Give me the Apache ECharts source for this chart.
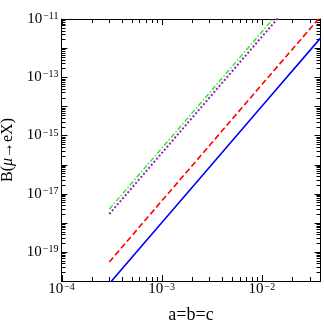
<!DOCTYPE html>
<html>
<head>
<meta charset="utf-8">
<script src="https://cdn.jsdelivr.net/npm/echarts@6/dist/echarts.min.js"></script>
<style>
  html, body { margin: 0; padding: 0; background: #fff; }
  #chart { width: 324px; height: 325px; }
</style>
</head>
<body>
<div id="chart"></div>
<script>
// a = b = c on x, B(mu -> eX) on y (both log)
var aValues = [3e-4, 1e-3, 3e-3, 1e-2, 3.85e-2];
var blueLine = [8.1e-21, 1.0e-18, 8.1e-17, 1.0e-14, 2.2e-12];
var redLine = [4.5e-20, 5.6e-18, 4.5e-16, 5.6e-14, 1.2e-11];
var purpleLine = [2.0e-18, 2.45e-16, 2.0e-14, 2.45e-12, 5.4e-10];
var greenLine = [2.95e-18, 3.6e-16, 2.9e-14, 3.6e-12, 8.0e-10];

var xMin = 1e-4, xMax = 3.85e-2;
var yMin = 1e-20, yMax = 1e-11;
var xLabelExps = [-4, -3, -2];
var yLabelExps = [-19, -17, -15, -13, -11];

var lg = Math.log10;
var font = "Liberation Serif";

var xLo = lg(xMin), xHi = lg(xMax), yLo = lg(yMin), yHi = lg(yMax);

// decade ticks and 2..9 minor ticks, in log space
function decadeTicks(lo, hi) {
  var out = [];
  for (var n = Math.ceil(lo - 1e-9); n <= hi + 1e-9; n++) out.push(n);
  return out;
}
function minorTicks(lo, hi) {
  var out = [];
  for (var n = Math.floor(lo); n < hi; n++) {
    for (var k = 2; k <= 9; k++) {
      var v = n + lg(k);
      if (v > lo && v < hi) out.push(v);
    }
  }
  return out;
}

function supLabel(v) {
  return "{b|10}{s|\u2212" + Math.abs(Math.round(v)) + "}";
}

function axisCfg(pos, lo, hi, labels, rich, margin) {
  return {
    type: "value",
    position: pos,
    min: lo,
    max: hi,
    splitLine: { show: false },
    axisLine: { show: true, lineStyle: { color: "#000", width: 1 } },
    axisTick: { show: false },
    axisLabel: labels ? {
      show: true, customValues: labels, margin: margin,
      formatter: supLabel, color: "#000", fontFamily: font, rich: rich
    } : { show: false }
  };
}

var xRich = {
  b: { fontSize: 15, lineHeight: 15, fontFamily: font, color: "#000", verticalAlign: "bottom" },
  s: { fontSize: 10, lineHeight: 10, fontFamily: font, color: "#000", verticalAlign: "top", padding: [0, 0, 8, 1] }
};
var yRich = {
  b: { fontSize: 15, lineHeight: 15, fontFamily: font, color: "#000", verticalAlign: "middle" },
  s: { fontSize: 10, lineHeight: 10, fontFamily: font, color: "#000", verticalAlign: "top", padding: [0, 0, 15, 1] }
};

var xBottom = axisCfg("bottom", xLo, xHi, xLabelExps, xRich, 1);
xBottom.name = "a=b=c";
xBottom.nameLocation = "middle";
xBottom.nameGap = 25;
xBottom.nameTextStyle = { fontSize: 18, fontFamily: font, color: "#000" };

var yLeft = axisCfg("left", yLo, yHi, yLabelExps, yRich, 3);
yLeft.name = "{n|B(}{i|\u03bc}{n|\u2192eX)}";
yLeft.nameLocation = "middle";
yLeft.nameGap = 39;
yLeft.nameRotate = 90;
yLeft.nameTextStyle = {
  rich: {
    n: { fontSize: 16, fontFamily: font, color: "#000" },
    i: { fontSize: 16, fontFamily: font, color: "#000", fontStyle: "italic" }
  }
};

// tick marks: [position in log space, side (0 bottom, 1 top, 2 left, 3 right), length]
var tickData = [];
decadeTicks(xLo, xHi).forEach(function (v) { tickData.push([v, 0, 6], [v, 1, 6]); });
minorTicks(xLo, xHi).forEach(function (v) { tickData.push([v, 0, 4], [v, 1, 4]); });
decadeTicks(yLo, yHi).forEach(function (v) { tickData.push([v, 2, 6], [v, 3, 6]); });
minorTicks(yLo, yHi).forEach(function (v) { tickData.push([v, 2, 4], [v, 3, 4]); });

function renderTick(params, api) {
  var v = api.value(0), side = api.value(1), len = api.value(2);
  var p, x1, y1, x2, y2;
  if (side < 2) {
    p = api.coord([v, side === 0 ? yLo : yHi]);
    x1 = x2 = Math.round(p[0]) + 0.5;
    y1 = p[1];
    y2 = side === 0 ? p[1] - len : p[1] + len;
  } else {
    p = api.coord([side === 2 ? xLo : xHi, v]);
    y1 = y2 = Math.round(p[1]) + 0.5;
    x1 = p[0];
    x2 = side === 2 ? p[0] + len : p[0] - len;
  }
  return {
    type: "line",
    shape: { x1: x1, y1: y1, x2: x2, y2: y2 },
    style: { stroke: "#000", lineWidth: 1 }
  };
}

function makeSeries(vals, color, type, width) {
  return {
    type: "line",
    symbol: "none",
    clip: true,
    data: aValues.map(function (a, i) { return [lg(a), lg(vals[i])]; }),
    lineStyle: { color: color, width: width, type: type }
  };
}

var chart = echarts.init(document.getElementById("chart"));
chart.setOption({
  animation: false,
  backgroundColor: "#fff",
  grid: { left: 61.5, right: 3.5, top: 19, bottom: 44, containLabel: false, outerBoundsMode: "none" },
  xAxis: [xBottom, axisCfg("top", xLo, xHi, null)],
  yAxis: [yLeft, axisCfg("right", yLo, yHi, null)],
  series: [
    makeSeries(blueLine, "#0000ff", "solid", 1.6),
    makeSeries(redLine, "#ff0000", [6, 3], 1.6),
    makeSeries(purpleLine, "#9320b8", [2, 2], 2),
    makeSeries(greenLine, "#22e822", [5, 2, 1.5, 2], 1.4),
    {
      type: "custom",
      silent: true,
      clip: false,
      renderItem: renderTick,
      encode: { x: 0 },
      data: tickData
    }
  ]
});
</script>
</body>
</html>
